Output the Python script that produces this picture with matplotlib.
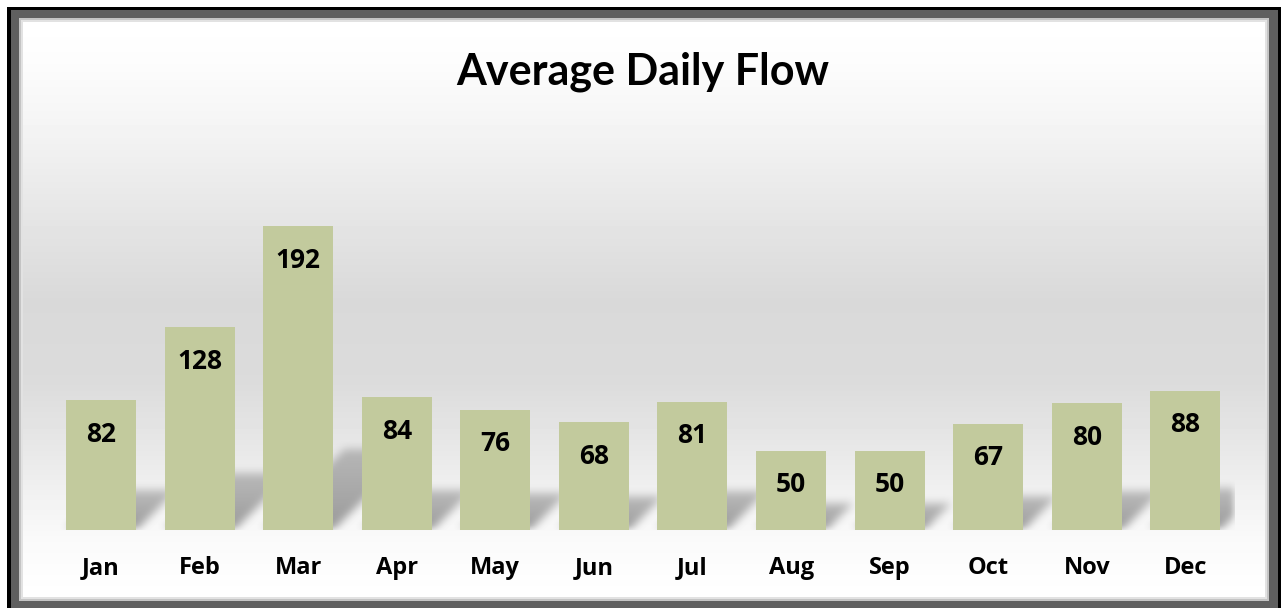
import numpy as np
import matplotlib
matplotlib.use('Agg')
import matplotlib.pyplot as plt
from matplotlib.patches import Rectangle

# data
months = ['Jan', 'Feb', 'Mar', 'Apr', 'May', 'Jun', 'Jul', 'Aug', 'Sep', 'Oct', 'Nov', 'Dec']
flow = [82, 128, 192, 84, 76, 68, 81, 50, 50, 67, 80, 88]

bar_color = '#c2ca9d'
W, H = 1281, 608
fig = plt.figure(figsize=(W / 100, H / 100), dpi=100)
fig.patch.set_facecolor('white')


def px_rect(x0, y0, x1, y1, color, z):
    # rectangle given in pixels measured from the top left corner
    fig.add_artist(Rectangle((x0 / W, 1 - y1 / H), (x1 - x0) / W, (y1 - y0) / H,
                             transform=fig.transFigure, facecolor=color,
                             edgecolor='none', zorder=z))


# frame
px_rect(7, 7, 1281, 608, 'black', 0)
px_rect(11, 10, 1278, 608, '#5f5f5f', 0.1)
px_rect(19, 18, 1269, 601, '#c4c4c4', 0.2)
px_rect(21, 20, 1267, 599, '#e2e2e2', 0.3)

# gradient background panel
bx0, by0, bx1, by1 = 23, 22, 1265, 597
bg = fig.add_axes([bx0 / W, 1 - by1 / H, (bx1 - bx0) / W, (by1 - by0) / H], zorder=0.5)
stops_y = [22, 60, 120, 200, 300, 380, 450, 500, 540, 597]
stops_v = [1.0, 0.99, 0.96, 0.91, 0.85, 0.86, 0.91, 0.95, 0.98, 1.0]
yy = np.arange(by0, by1)
grad = np.interp(yy, stops_y, stops_v)
bg.imshow(grad[:, None], cmap='gray', vmin=0, vmax=1, aspect='auto',
          extent=[0, 1, 0, 1], origin='upper')
bg.axis('off')

# main axes
ax_l, ax_w = 51.7 / W, 1183 / W
ax_b = 78 / H
ymax = 250
px_per_unit = 304 / 192
ax_h = ymax * px_per_unit / H
ax = fig.add_axes([ax_l, ax_b, ax_w, ax_h], zorder=1)
ax.patch.set_alpha(0)
x = np.arange(len(months))

# soft perspective shadows behind the bars
bw = 0.71
nx, ny = 1183, int(ymax * px_per_unit)
ux = nx / len(months)
img = np.zeros((ny, nx))
rows = np.arange(ny)[:, None]
cols = np.arange(nx)[None, :]
for i, v in enumerate(flow):
    hpx = v * px_per_unit
    sh = 0.24 * hpx + 8
    left = (i + 0.5 - bw / 2) * ux
    right = (i + 0.5 + bw / 2) * ux
    shift = rows * 1.0
    m = (rows <= sh) & (cols >= left + shift) & (cols <= right + shift)
    fade = np.clip(1 - rows / (sh + 1) * 0.4, 0, 1)
    img = np.maximum(img, m * fade)


def box_blur(a, r):
    k = np.ones(2 * r + 1) / (2 * r + 1)
    a = np.apply_along_axis(lambda c: np.convolve(c, k, mode='same'), 0, a)
    a = np.apply_along_axis(lambda c: np.convolve(c, k, mode='same'), 1, a)
    return a


img = box_blur(box_blur(img, 5), 4)
rgba = np.zeros((ny, nx, 4))
rgba[..., :3] = 0.45
rgba[..., 3] = np.clip(img * 0.7, 0, 1)
ax.imshow(rgba[::-1], extent=[-0.5, len(months) - 0.5, 0, ny / px_per_unit],
          origin='upper', aspect='auto', zorder=1, interpolation='bilinear')
ax.set_xlim(-0.5, len(months) - 0.5)
ax.set_ylim(0, ymax)

bars = ax.bar(x, flow, width=bw, color=bar_color, zorder=2)

for xi, v in zip(x, flow):
    ax.annotate(str(v), (xi, v), xytext=(0, -24.5), textcoords='offset points',
                ha='center', va='center', fontsize=19, fontweight='bold',
                family='Open Sans', color='black', zorder=3)

ax.set_xticks(x)
ax.set_xticklabels(months, fontsize=17, fontweight='bold', family='Open Sans')
ax.tick_params(axis='x', length=0, pad=19)
ax.set_yticks([])
for s in ax.spines.values():
    s.set_visible(False)

fig.text(643 / W, 1 - 85 / H, 'Average Daily Flow', ha='center', va='baseline',
         fontsize=31, fontweight='bold', family='Lato', zorder=3)

fig.savefig('out.png', dpi=100)
